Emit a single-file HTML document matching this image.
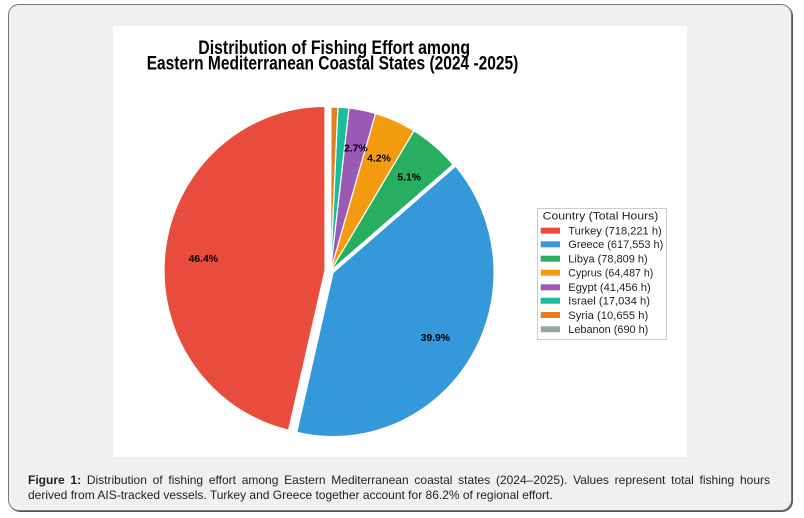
<!DOCTYPE html>
<html>
<head>
<meta charset="utf-8">
<style>
  html, body { margin: 0; padding: 0; background: #ffffff; }
  body { width: 804px; height: 518px; position: relative; overflow: hidden; font-family: "Liberation Sans", Arial, sans-serif; }
  .frame { position: absolute; left: 8px; top: 4px; width: 782px; height: 505px; border: 1px solid #777; border-radius: 11px; background: #f0f0f0; box-shadow: 1px 1px 0 #555; }
  svg { position: absolute; left: 0; top: 0; }
  .cap { position: absolute; left: 28px; width: 742px; font-size: 12px; color: #222; white-space: normal; }
  .l1 { top: 473px; text-align: justify; text-align-last: justify; }
  .l2 { top: 487.5px; text-align: left; }
</style>
</head>
<body>
<div class="frame"></div>
<svg width="804" height="518" viewBox="0 0 804 518" xmlns="http://www.w3.org/2000/svg">
  <rect x="113" y="26" width="574" height="431" fill="#ffffff"/>

  <!-- Title -->
  <text x="198.3" y="54" font-family="Liberation Sans, Arial, sans-serif" font-weight="bold" font-size="19" fill="#000" textLength="271.7" lengthAdjust="spacingAndGlyphs">Distribution of Fishing Effort among</text>
  <text x="146.7" y="69.3" font-family="Liberation Sans, Arial, sans-serif" font-weight="bold" font-size="19" fill="#000" textLength="371.6" lengthAdjust="spacingAndGlyphs">Eastern Mediterranean Coastal States (2024 -2025)</text>

  <!-- Pie -->
  <g stroke="#ffffff" stroke-width="1.2" stroke-linejoin="round">
    <path transform="translate(-5.5,-0.6)" d="M330.5 271 L294.09 430.75 A161 164 0 0 1 330.5 107 Z" fill="#e74c3c"/>
    <path transform="translate(2.6,1.6)" d="M330.5 271 L453.01 164.60 A161 164 0 0 1 294.09 430.75 Z" fill="#3498db"/>
    <path d="M330.5 271 L413.95 130.75 A161 164 0 0 1 453.01 164.60 Z" fill="#27ae60"/>
    <path d="M330.5 271 L375.50 113.54 A161 164 0 0 1 413.95 130.75 Z" fill="#f39c12"/>
    <path d="M330.5 271 L348.98 108.08 A161 164 0 0 1 375.50 113.54 Z" fill="#9b59b6"/>
    <path d="M330.5 271 L337.89 107.17 A161 164 0 0 1 348.98 108.08 Z" fill="#1abc9c"/>
    <path d="M330.5 271 L330.95 107.0 A161 164 0 0 1 337.89 107.17 Z" fill="#e67e22"/>
    <path d="M330.5 271 L330.5 107 A161 164 0 0 1 330.95 107.0 Z" fill="#95a5a6"/>
  </g>

  <!-- Pie labels -->
  <g font-family="Liberation Sans, Arial, sans-serif" font-weight="bold" font-size="10.4" fill="#000" text-anchor="middle">
    <text x="203.3" y="262">46.4%</text>
    <text x="435.3" y="341">39.9%</text>
    <text x="409.2" y="180.4">5.1%</text>
    <text x="379" y="161.4">4.2%</text>
    <text x="355.8" y="151.4">2.7%</text>
  </g>

  <!-- Legend -->
  <rect x="537.5" y="208.5" width="129" height="131" fill="#ffffff" stroke="#cccccc" stroke-width="1"/>
  <g font-family="Liberation Sans, Arial, sans-serif" font-size="11" fill="#222">
    <text x="542.7" y="219.4" textLength="115.6" lengthAdjust="spacingAndGlyphs">Country (Total Hours)</text>

    <rect x="540.7" y="227.7" width="19.3" height="6" fill="#e74c3c"/>
    <text x="568.3" y="234.6" textLength="93.4" lengthAdjust="spacingAndGlyphs">Turkey (718,221 h)</text>

    <rect x="540.7" y="241.3" width="19.3" height="6" fill="#3498db"/>
    <text x="568.3" y="248.2" textLength="95" lengthAdjust="spacingAndGlyphs">Greece (617,553 h)</text>

    <rect x="540.7" y="255.7" width="19.3" height="6" fill="#27ae60"/>
    <text x="568.3" y="262.6" textLength="79.4" lengthAdjust="spacingAndGlyphs">Libya (78,809 h)</text>

    <rect x="540.7" y="269.7" width="19.3" height="6" fill="#f39c12"/>
    <text x="568.3" y="276.6" textLength="85" lengthAdjust="spacingAndGlyphs">Cyprus (64,487 h)</text>

    <rect x="540.7" y="284.3" width="19.3" height="6" fill="#9b59b6"/>
    <text x="568.3" y="291.2" textLength="82.4" lengthAdjust="spacingAndGlyphs">Egypt (41,456 h)</text>

    <rect x="540.7" y="297.7" width="19.3" height="6" fill="#1abc9c"/>
    <text x="568.3" y="304.6" textLength="81.7" lengthAdjust="spacingAndGlyphs">Israel (17,034 h)</text>

    <rect x="540.7" y="312" width="19.3" height="6" fill="#e67e22"/>
    <text x="568.3" y="318.9" textLength="80" lengthAdjust="spacingAndGlyphs">Syria (10,655 h)</text>

    <rect x="540.7" y="326.3" width="19.3" height="6" fill="#95a5a6"/>
    <text x="568.3" y="333.2" textLength="80" lengthAdjust="spacingAndGlyphs">Lebanon (690 h)</text>
  </g>
</svg>

<div class="cap l1"><b>Figure 1:</b> Distribution of fishing effort among Eastern Mediterranean coastal states (2024–2025). Values represent total fishing hours</div>
<div class="cap l2">derived from AIS-tracked vessels. Turkey and Greece together account for 86.2% of regional effort.</div>
</body>
</html>
